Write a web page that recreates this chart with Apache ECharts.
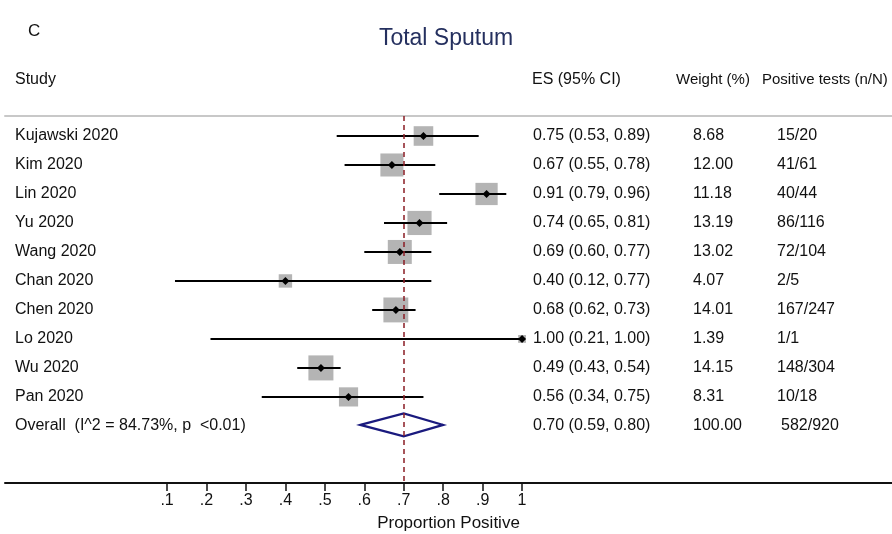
<!DOCTYPE html>
<html><head><meta charset="utf-8">
<script src="https://cdn.jsdelivr.net/npm/echarts@6/dist/echarts.min.js"></script>
<style>html,body{margin:0;padding:0;background:#fff}#c{width:892px;height:534px}</style>
</head><body><div id="c"></div>
<script>
var studies = ['Kujawski 2020','Kim 2020','Lin 2020','Yu 2020','Wang 2020','Chan 2020','Chen 2020','Lo 2020','Wu 2020','Pan 2020'];
var es      = [0.75,0.67,0.91,0.74,0.69,0.40,0.68,1.00,0.49,0.56];
var ciLow   = [0.53,0.55,0.79,0.65,0.60,0.12,0.62,0.21,0.43,0.34];
var ciHigh  = [0.89,0.78,0.96,0.81,0.77,0.77,0.73,1.00,0.54,0.75];
var weights = [8.68,12.00,11.18,13.19,13.02,4.07,14.01,1.39,14.15,8.31];
var positives = ['15/20','41/61','40/44','86/116','72/104','2/5','167/247','1/1','148/304','10/18'];
var overallLabel = 'Overall  (I^2 = 84.73%, p  <0.01)';
var overallES = 0.70, overallLow = 0.59, overallHigh = 0.80;
var overallWeight = '100.00', overallPositive = '582/920';
var tickValues = [0.1,0.2,0.3,0.4,0.5,0.6,0.7,0.8,0.9,1.0];
var tickLabels = ['.1','.2','.3','.4','.5','.6','.7','.8','.9','1'];

var FONT = 'Liberation Sans, Arial, sans-serif';
var FS = 16;
var COL_NAME = 15, COL_ES = 533, COL_W = 693, COL_N = 777;

var rows = studies.map(function(s,i){return [i, es[i], ciLow[i], ciHigh[i], weights[i]];});

function fmt(v){return v.toFixed(2);}
function txt(x,y,t,fs){return {type:'text',x:x,y:y,style:{text:t,fill:'#111',font:(fs||FS)+'px '+FONT,textVerticalAlign:'middle',textAlign:'left'}};}

var chart = echarts.init(document.getElementById('c'));
chart.setOption({
  animation:false,
  backgroundColor:'#fff',
  title:[
    {text:'Total Sputum',left:'center',top:22,textStyle:{color:'#25305f',fontSize:23,fontWeight:'normal',fontFamily:FONT}},
    {text:'C',left:23,top:18,textStyle:{color:'#111',fontSize:17,fontWeight:'normal',fontFamily:FONT}}
  ],
  graphic:[
    txt(COL_NAME,80,'Study'),
    txt(532,80,'ES (95% CI)'),
    txt(676,80,'Weight (%)',15),
    txt(762,80,'Positive tests (n/N)',15)
  ],
  grid:{left:5,right:0,top:116,bottom:51,containLabel:false,outerBoundsMode:'none'},
  xAxis:[{
    type:'value',min:-0.311,max:1.938,position:'bottom',
    splitLine:{show:false},
    axisLine:{onZero:false,lineStyle:{color:'#111',width:2}},
    axisTick:{show:true,inside:false,length:8,customValues:tickValues,lineStyle:{color:'#111',width:1.5}},
    axisLabel:{customValues:tickValues,formatter:function(v){var i=tickValues.findIndex(function(t){return Math.abs(t-v)<1e-6;});return i>=0?tickLabels[i]:'';},
      color:'#111',fontSize:16,fontFamily:FONT,margin:10},
    name:'Proportion Positive',nameLocation:'middle',nameGap:32,
    nameTextStyle:{color:'#111',fontSize:17,fontFamily:FONT}
  },{
    type:'value',min:-0.311,max:1.938,position:'top',
    splitLine:{show:false},axisTick:{show:false},axisLabel:{show:false},
    axisLine:{onZero:false,lineStyle:{color:'#c8c8c8',width:2}}
  }],
  yAxis:{type:'value',inverse:true,min:-0.69,max:11.97,show:false},
  series:[{
    type:'custom',
    data:rows,
    encode:{x:1,y:0},
    renderItem:function(params,api){
      var i=api.value(0), e=api.value(1), l=api.value(2), h=api.value(3), w=api.value(4);
      var c=api.coord([e,i]), pl=api.coord([l,i]), ph=api.coord([h,i]);
      var side=6.65*Math.sqrt(w);
      var y=c[1];
      return {type:'group',children:[
        {type:'rect',shape:{x:c[0]-side/2,y:y-side/2,width:side,height:side},style:{fill:'#b4b4b4'}},
        {type:'line',shape:{x1:pl[0],y1:y,x2:ph[0],y2:y},style:{stroke:'#000',lineWidth:2}},
        {type:'polygon',shape:{points:[[c[0]-4,y],[c[0],y-4],[c[0]+4,y],[c[0],y+4]]},style:{fill:'#000'}},
        txt(COL_NAME,y,studies[i]),
        txt(COL_ES,y,fmt(e)+' ('+fmt(l)+', '+fmt(h)+')'),
        txt(COL_W,y,w.toFixed(2)),
        txt(COL_N,y,positives[i])
      ]};
    },
    markLine:{silent:true,symbol:'none',label:{show:false},
      lineStyle:{color:'#8b1c24',type:[5,4],width:1.5},
      data:[{xAxis:overallES}]}
  },{
    type:'custom',
    data:[[10, overallES, overallLow, overallHigh]],
    encode:{x:1,y:0},
    renderItem:function(params,api){
      var i=api.value(0), e=api.value(1), l=api.value(2), h=api.value(3);
      var c=api.coord([e,i]), pl=api.coord([l,i]), ph=api.coord([h,i]);
      var y=c[1]-1;
      return {type:'group',children:[
        {type:'polygon',shape:{points:[[pl[0],y],[c[0],y-11.5],[ph[0],y],[c[0],y+11.5]]},style:{fill:'#fff',stroke:'#1a1a7e',lineWidth:2.2}},
        txt(COL_NAME,c[1],overallLabel),
        txt(COL_ES,c[1],fmt(e)+' ('+fmt(l)+', '+fmt(h)+')'),
        txt(COL_W,c[1],overallWeight),
        txt(781,c[1],overallPositive)
      ]};
    }
  }]
});
</script></body></html>
